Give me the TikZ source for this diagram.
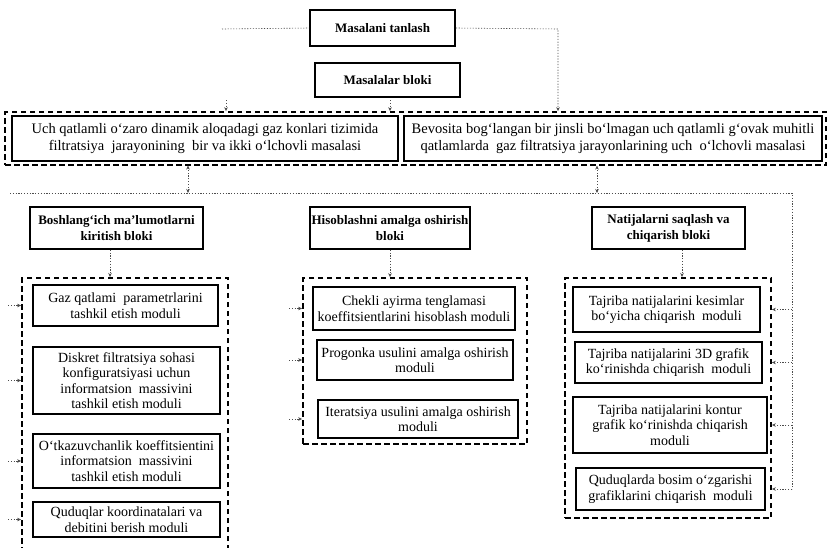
\documentclass[tikz,border=0pt]{standalone}
\usepackage{fontspec}
\setmainfont{Liberation Serif}
\usetikzlibrary{arrows.meta}
\begin{document}
\begin{tikzpicture}[x=1pt,y=-1pt,
  box/.style={draw, line width=1.4pt, align=center, inner sep=0pt,
    font=\fontsize{14}{15.5}\selectfont},
  wbox/.style={box, font=\fontsize{14.5}{17}\selectfont},
  bbox/.style={box, line width=1.6pt, font=\fontsize{13}{16}\selectfont\bfseries},
  dbox/.style={draw, line width=1.8pt, dash pattern=on 5.5pt off 3.5pt, inner sep=0pt},
  conn/.style={black!70, line width=0.6pt, dash pattern=on 1.2pt off 1.6pt},
  >={Stealth[length=4pt,width=3.5pt]}]
\useasboundingbox (0,0) rectangle (828,547);
\clip (0,0) rectangle (828,547);

% top row
\node[bbox, minimum width=145pt, minimum height=36pt] (A) at (382.5,28) {Masalani tanlash};
\node[bbox, minimum width=145pt, minimum height=34pt] (B) at (387.5,80) {Masalalar bloki};

% problems
\node[dbox, minimum width=821pt, minimum height=53pt] (P) at (415.5,138.5) {};
\node[wbox, minimum width=386pt, minimum height=45pt] (L1) at (205,138.5)
  {Uch qatlamli o‘zaro dinamik aloqadagi gaz konlari tizimida\\ filtratsiya\ \ jarayonining\ \ bir va ikki o‘lchovli masalasi};
\node[wbox, minimum width=418pt, minimum height=45pt] (R1) at (613,138.5)
  {Bevosita bog‘langan bir jinsli bo‘lmagan uch qatlamli g‘ovak muhitli\\ qatlamlarda\ \ gaz filtratsiya\ jarayonlarining uch\ \ o‘lchovli masalasi};

% blocks
\node[bbox, minimum width=173pt, minimum height=42pt] (Bo) at (116.5,228) {Boshlang‘ich ma’lumotlarni\\ kiritish bloki};
\node[bbox, minimum width=160pt, minimum height=42pt] (Hi) at (390,228) {Hisoblashni amalga oshirish\\ bloki};
\node[bbox, minimum width=153pt, minimum height=42pt] (Na) at (668.5,228) {Natijalarni saqlash va\\ chiqarish bloki};

% left column
\node[dbox, minimum width=206pt, minimum height=282pt] (Ld) at (125,419) {};
\node[box, minimum width=185pt, minimum height=41pt] (L1m) at (125.5,305.5) {Gaz qatlami\ \ parametrlarini\\ tashkil etish moduli};
\node[box, minimum width=187pt, minimum height=67pt] (L2m) at (126.5,380.5) {Diskret filtratsiya sohasi\\ konfiguratsiyasi uchun\\ informatsion\ \ massivini\\ tashkil etish moduli};
\node[box, minimum width=187pt, minimum height=54pt] (L3m) at (126.5,461) {O‘tkazuvchanlik koeffitsientini\\ informatsion\ \ massivini\\ tashkil etish moduli};
\node[box, minimum width=187pt, minimum height=35pt] (L4m) at (126.5,519.5) {Quduqlar koordinatalari va\\ debitini berish moduli};

% middle column
\node[dbox, minimum width=224pt, minimum height=166pt] (Md) at (415,361) {};
\node[box, minimum width=202pt, minimum height=43pt] (M1m) at (414,308.5) {Chekli ayirma tenglamasi\\ koeffitsientlarini hisoblash moduli};
\node[box, minimum width=196pt, minimum height=40pt] (M2m) at (415,360) {Progonka usulini amalga oshirish\\ moduli};
\node[box, minimum width=200pt, minimum height=38pt] (M3m) at (418,419) {Iteratsiya usulini amalga oshirish\\ moduli};

% right column
\node[dbox, minimum width=206pt, minimum height=240pt] (Rd) at (668,398) {};
\node[box, minimum width=187pt, minimum height=45pt] (R1m) at (666.5,309.5) {Tajriba natijalarini kesimlar\\ bo‘yicha chiqarish\ \ moduli};
\node[box, minimum width=187pt, minimum height=41pt] (R2m) at (668.5,362.5) {Tajriba natijalarini 3D grafik\\ ko‘rinishda chiqarish\ \ moduli};
\node[box, minimum width=194pt, minimum height=56pt] (R3m) at (670,425) {Tajriba natijalarini kontur\\ grafik ko‘rinishda chiqarish\\ moduli};
\node[box, minimum width=189pt, minimum height=42pt] (R4m) at (670.5,489) {Quduqlarda bosim o‘zgarishi\\ grafiklarini chiqarish\ \ moduli};

% connectors
\coordinate (lt) at (222,29);
\coordinate (rt) at (558,29);
\coordinate (ht0) at (10,193);
\coordinate (rail) at (792,193);
\coordinate (lrail) at (8,300);
\coordinate (mrail) at (289,300);
\coordinate (s1) at (226,100);
\coordinate (s2) at (390,100);

\draw[conn] (lt) -- (A.west);
\draw[conn,->] (A.east) -- (rt) -- (rt |- P.north);
\draw[conn,->] (s1) -- (s1 |- P.north);
\draw[conn,->] (s2) -- (s2 |- P.north);

\draw[conn] (ht0) -- (rail) -- (rail |- R4m);
\draw[conn,<->] (188,193) -- (188,165.5);
\draw[conn,<->] (597,193) -- (597,165.5);

\draw[conn,->] (Bo.south -| 110,0) -- (110,277);
\draw[conn,->] (Hi.south) -- (Hi.south |- Md.north);
\draw[conn,->] (Na.south -| 682,0) -- (682,277);

\foreach \m in {R1m,R2m,R3m,R4m}
  \draw[conn,->] (rail |- \m) -- (Rd.east |- \m);
\foreach \m in {L1m,L2m,L3m,L4m}
  \draw[conn,->] (lrail |- \m) -- (Ld.west |- \m);
\foreach \m in {M1m,M2m,M3m}
  \draw[conn,->] (mrail |- \m) -- (Md.west |- \m);
\end{tikzpicture}
\end{document}
